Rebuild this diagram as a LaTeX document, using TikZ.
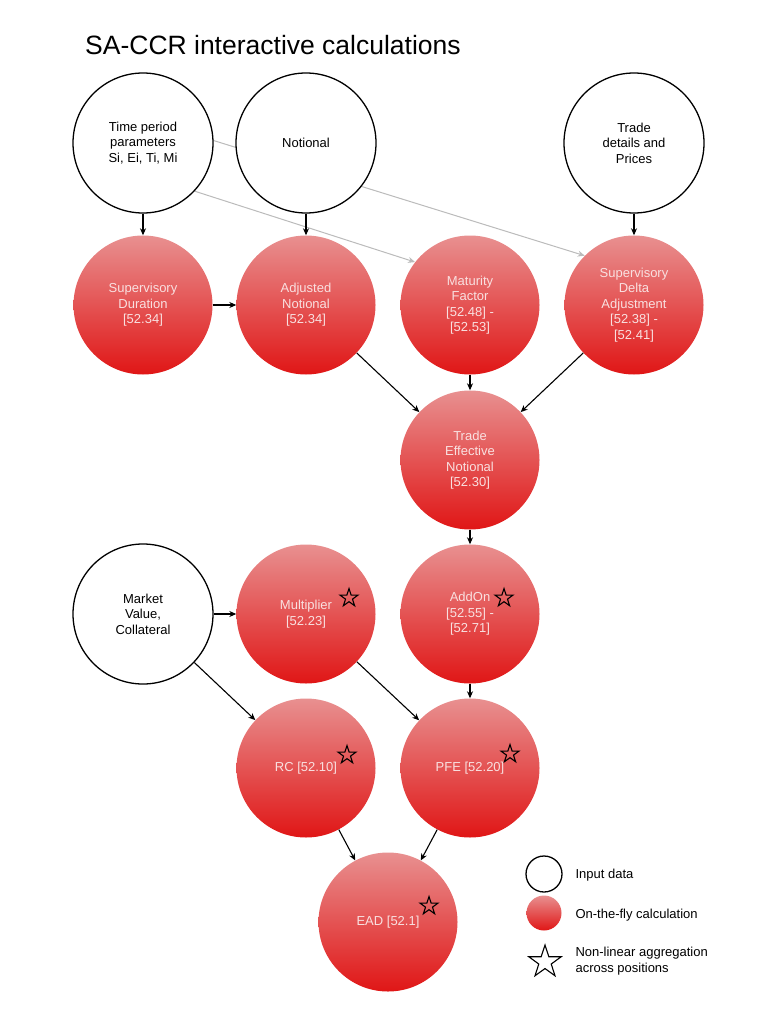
\documentclass[tikz,border=0pt]{standalone}
\usepackage{fontspec}
\setmainfont{Liberation Sans}
\usepackage{xcolor}
\usetikzlibrary{shapes.geometric,arrows.meta,backgrounds}

\definecolor{calctop}{HTML}{E89090}
\definecolor{calcbottom}{HTML}{E01616}
\definecolor{calctext}{HTML}{F9E0E0}
\definecolor{refgray}{HTML}{BBBBBB}

\tikzset{
  inputnode/.style={draw, circle, line width=1.3pt, minimum size=140pt, inner sep=0pt, fill=white, align=center, font=\fontsize{13pt}{15.5pt}\selectfont},
  calcnode/.style={circle, minimum size=139pt, inner sep=0pt, top color=calctop, bottom color=calcbottom, text=calctext, align=center, font=\fontsize{13pt}{15.5pt}\selectfont},
  aggstar/.style={draw, star, star points=5, star point ratio=2.6, minimum size=19pt, inner sep=0pt, line width=1.1pt},
  flowarrow/.style={-{Stealth[length=7pt,width=6pt]}, line width=1.1pt},
  refarrow/.style={-{Stealth[length=7pt,width=6pt]}, draw=refgray, line width=1pt},
}

\begin{document}
\begin{tikzpicture}[x=1pt, y=-1pt]%
\useasboundingbox (0,0) rectangle (775,1024);%
\node[anchor=base west, inner sep=0pt, font=\fontsize{26.5pt}{30pt}\selectfont] (title) at (85,55) {SA-CCR interactive calculations};%
% inputs
\node[inputnode] (tperiod) at (143,143) {Time period\\parameters\\Si, Ei, Ti, Mi};%
\node[inputnode] (notional) at (306,143) {Notional};%
\node[inputnode] (tdetails) at (634,143) {Trade\\details and\\Prices};%
\node[inputnode] (mktval) at (143,614) {Market\\Value,\\Collateral};%
% calculations
\node[calcnode] (supdur) at (143,305) {Supervisory\\Duration\\{[52.34]}};%
\node[calcnode] (adjnot) at (306,305) {Adjusted\\Notional\\{[52.34]}};%
\node[calcnode] (matfac) at (470,305) {Maturity\\Factor\\{[52.48] -}\\{[52.53]}};%
\node[calcnode] (supdelta) at (634,305) {Supervisory\\Delta\\Adjustment\\{[52.38] -}\\{[52.41]}};%
\node[calcnode] (effnot) at (470,460) {Trade\\Effective\\Notional\\{[52.30]}};%
\node[calcnode] (mult) at (306,614) {Multiplier\\{[52.23]}};%
\node[calcnode] (addon) at (470,614) {AddOn\\{[52.55] -}\\{[52.71]}};%
\node[calcnode] (rc) at (306,768) {RC [52.10]};%
\node[calcnode] (pfe) at (470,768) {PFE [52.20]};%
\node[calcnode] (ead) at (388,922) {EAD [52.1]};%
% stars
\node[aggstar] (multstar) at (349,598) {};%
\node[aggstar] (addonstar) at (504,598) {};%
\node[aggstar] (rcstar) at (347,755) {};%
\node[aggstar] (pfestar) at (510,754) {};%
\node[aggstar] (eadstar) at (429,906) {};%
% connectors
\begin{scope}[on background layer]%
\draw[refarrow] (tperiod.2) -- (supdelta.135);%
\draw[refarrow] (tperiod.-43) -- (matfac.142);%
\end{scope}%
\draw[flowarrow] (tperiod) -- (supdur);%
\draw[flowarrow] (notional) -- (adjnot);%
\draw[flowarrow] (tdetails) -- (supdelta);%
\draw[flowarrow] (supdur) -- (adjnot);%
\draw[flowarrow] (adjnot) -- (effnot);%
\draw[flowarrow] (matfac) -- (effnot);%
\draw[flowarrow] (supdelta) -- (effnot);%
\draw[flowarrow] (effnot) -- (addon);%
\draw[flowarrow] (mktval) -- (mult);%
\draw[flowarrow] (mktval) -- (rc);%
\draw[flowarrow] (mult) -- (pfe);%
\draw[flowarrow] (addon) -- (pfe);%
\draw[flowarrow] (rc) -- (ead);%
\draw[flowarrow] (pfe) -- (ead);%
% legend
\node[inputnode, minimum size=36pt] (leginput) at (544,874) {};%
\node[calcnode, minimum size=35pt] (legcalc) at (544,913) {};%
\node[aggstar, minimum size=34pt] (legstar) at (545,962) {};%
\node[anchor=west, font=\fontsize{13pt}{15.5pt}\selectfont] (leginputtxt) at (572,875) {Input data};%
\node[anchor=west, font=\fontsize{13pt}{15.5pt}\selectfont] (legcalctxt) at (572,915) {On-the-fly calculation};%
\node[anchor=west, align=left, font=\fontsize{13pt}{15.5pt}\selectfont] (legstartxt) at (572,961) {Non-linear aggregation\\across positions};%
\end{tikzpicture}
\end{document}
